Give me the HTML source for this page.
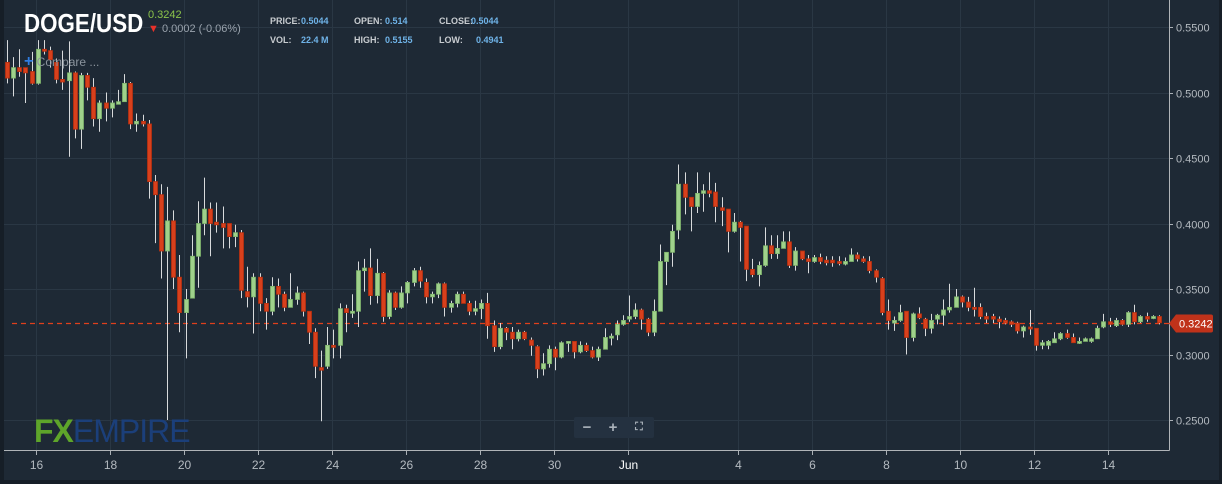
<!DOCTYPE html>
<html><head><meta charset="utf-8"><style>
html,body{margin:0;padding:0;background:#1e2935;width:1222px;height:484px;overflow:hidden;font-family:"Liberation Sans",sans-serif}
#wrap{position:relative;width:1222px;height:484px;background:#1e2935}
.hdr{position:absolute;color:#fff}
</style></head><body>
<div id="wrap">
<svg id="chart" width="1222" height="484" style="position:absolute;left:0;top:0"></svg>
<div class="hdr" style="left:24px;top:8px;font-size:26px;font-weight:bold;transform:scaleX(0.86);transform-origin:0 0;white-space:nowrap">DOGE/USD</div>
<div class="hdr" style="left:148px;top:9px;font-size:11px;color:#8bc34a">0.3242</div>
<div class="hdr" style="left:148px;top:23px;font-size:11px;color:#9aa3ad"><span style="color:#e8312a">&#9660;</span> 0.0002 (-0.06%)</div>
<div class="hdr" style="left:270px;top:12px;font-size:9px;color:#c8ccd0;line-height:19px;font-weight:bold;white-space:nowrap">
<div><span style="display:inline-block;width:31px">PRICE:</span><span style="color:#6fb3e8;display:inline-block;width:53px">0.5044</span><span style="display:inline-block;width:31px">OPEN:</span><span style="color:#6fb3e8;display:inline-block;width:54px">0.514</span><span style="display:inline-block;width:32px">CLOSE:</span><span style="color:#6fb3e8">0.5044</span></div>
<div><span style="display:inline-block;width:31px">VOL:</span><span style="color:#6fb3e8;display:inline-block;width:53px">22.4 M</span><span style="display:inline-block;width:31px">HIGH:</span><span style="color:#6fb3e8;display:inline-block;width:54px">0.5155</span><span style="display:inline-block;width:32px">LOW:</span><span style="color:#6fb3e8">&nbsp;&nbsp;0.4941</span></div>
</div>
<div class="hdr" style="left:24px;top:53px;font-size:12px;color:#8a939c"><span style="color:#2f7de1;font-size:16px;font-weight:bold">+</span> Compare ...</div>
<div class="hdr" style="left:34px;top:413px;font-size:32px;letter-spacing:-1px;white-space:nowrap;transform:scaleX(1.0);transform-origin:0 0"><span style="color:#5ea52a;font-weight:bold">FX</span><span style="color:#1b3f7a">EMPIRE</span></div>
<div style="position:absolute;left:574px;top:417px;width:80px;height:21px;background:#243140;border-radius:2px;color:#aab2ba;font-size:15px;font-weight:bold;display:flex">
<div style="width:26px;text-align:center;line-height:21px">−</div>
<div style="width:26px;text-align:center;line-height:21px">+</div>
<div style="width:26px;text-align:center;line-height:21px;font-size:11px">⛶</div>
</div>
</div>
<script>
const opens=[.523,.511,.519,.519,.516,.507,.533,.532,.523,.510,.509,.515,.472,.513,.504,.480,.492,.488,.491,.493,.507,.476,.478,.476,.432,.422,.379,.402,.359,.332,.343,.375,.400,.411,.401,.400,.400,.390,.393,.348,.344,.359,.339,.333,.352,.346,.336,.342,.347,.333,.317,.290,.291,.307,.307,.335,.332,.333,.364,.366,.345,.362,.329,.347,.336,.347,.355,.364,.355,.344,.346,.354,.336,.339,.346,.339,.333,.335,.339,.322,.306,.320,.317,.312,.317,.311,.306,.289,.293,.304,.298,.309,.310,.302,.307,.303,.298,.304,.313,.315,.323,.327,.329,.334,.327,.317,.333,.371,.378,.395,.430,.420,.413,.423,.425,.424,.412,.411,.394,.401,.398,.365,.361,.368,.383,.377,.381,.386,.368,.379,.373,.371,.374,.372,.372,.371,.369,.371,.376,.373,.371,.364,.358,.333,.324,.326,.333,.313,.331,.327,.320,.327,.330,.334,.336,.344,.340,.336,.336,.329,.329,.327,.326,.325,.324,.318,.321,.320,.307,.307,.309,.312,.316,.313,.309,.310,.310,.312,.321,.325,.322,.326,.323,.332,.325,.329,.328,.329];
const highs=[.540,.527,.533,.519,.531,.540,.540,.535,.526,.532,.539,.516,.515,.515,.511,.494,.500,.494,.502,.514,.508,.484,.483,.479,.437,.430,.428,.410,.376,.350,.391,.417,.435,.416,.416,.413,.400,.399,.395,.367,.362,.362,.343,.359,.358,.348,.362,.352,.348,.333,.320,.303,.321,.319,.339,.338,.346,.371,.373,.381,.373,.363,.349,.348,.352,.356,.366,.367,.358,.348,.355,.355,.341,.348,.348,.341,.341,.342,.347,.326,.324,.321,.321,.319,.318,.313,.307,.301,.307,.306,.310,.310,.310,.310,.309,.306,.306,.320,.316,.326,.330,.345,.339,.335,.328,.342,.384,.378,.399,.445,.439,.420,.439,.430,.439,.431,.420,.411,.408,.402,.398,.373,.371,.397,.391,.391,.394,.394,.382,.379,.376,.376,.377,.375,.375,.375,.374,.381,.378,.375,.375,.365,.359,.342,.329,.338,.333,.332,.336,.328,.331,.331,.342,.354,.350,.345,.344,.351,.339,.332,.331,.329,.328,.326,.325,.322,.334,.320,.311,.311,.317,.317,.319,.316,.313,.313,.313,.322,.331,.328,.328,.327,.333,.338,.330,.332,.330,.330];
const lows=[.507,.497,.512,.492,.506,.506,.529,.519,.507,.502,.451,.465,.457,.494,.474,.470,.478,.481,.491,.493,.472,.470,.474,.419,.385,.358,.250,.350,.317,.297,.343,.351,.391,.375,.393,.381,.381,.382,.343,.336,.316,.333,.319,.330,.336,.333,.336,.338,.329,.308,.282,.249,.289,.297,.297,.317,.328,.321,.348,.338,.339,.325,.327,.334,.335,.339,.352,.351,.339,.339,.343,.329,.332,.336,.339,.330,.330,.327,.312,.302,.304,.311,.304,.310,.311,.299,.282,.284,.290,.288,.297,.302,.297,.301,.302,.297,.295,.304,.307,.311,.322,.325,.327,.319,.314,.314,.333,.353,.367,.388,.407,.394,.408,.409,.420,.401,.398,.378,.393,.371,.356,.359,.352,.367,.373,.373,.381,.366,.364,.372,.362,.370,.369,.368,.367,.368,.368,.371,.371,.370,.362,.355,.330,.319,.318,.325,.300,.310,.327,.314,.316,.323,.322,.332,.336,.336,.333,.329,.327,.324,.324,.320,.323,.321,.316,.313,.315,.303,.304,.304,.309,.311,.312,.309,.308,.310,.309,.312,.320,.321,.321,.322,.321,.323,.324,.325,.327,.323];
const closes=[.511,.519,.516,.515,.507,.533,.532,.525,.510,.508,.515,.472,.513,.504,.480,.492,.488,.492,.493,.507,.476,.478,.476,.432,.422,.379,.402,.359,.332,.342,.375,.400,.411,.400,.399,.397,.390,.393,.349,.344,.359,.339,.333,.352,.346,.336,.342,.347,.333,.317,.291,.288,.307,.306,.335,.332,.333,.364,.366,.345,.362,.329,.347,.336,.347,.355,.364,.356,.344,.346,.354,.336,.339,.346,.339,.333,.335,.339,.322,.306,.320,.317,.312,.317,.312,.307,.289,.293,.304,.298,.309,.310,.302,.307,.303,.298,.304,.313,.314,.323,.326,.329,.334,.327,.317,.333,.371,.378,.394,.430,.420,.413,.423,.425,.423,.413,.410,.394,.401,.397,.365,.361,.368,.383,.377,.381,.386,.368,.379,.373,.371,.374,.371,.370,.370,.370,.371,.376,.373,.371,.364,.359,.332,.326,.326,.332,.313,.331,.328,.320,.326,.330,.334,.336,.344,.340,.336,.335,.329,.327,.327,.325,.324,.323,.318,.321,.320,.307,.309,.310,.312,.316,.313,.309,.310,.312,.312,.320,.325,.323,.326,.323,.332,.325,.329,.327,.329,.3242];
const yTicks=[0.55,0.50,0.45,0.40,0.35,0.30,0.25];
const xTickLabels=["16","18","20","22","24","26","28","30","Jun","4","6","8","10","12","14"];
const xTickDays=[0,2,4,6,8,10,12,14,16,19,21,23,25,27,29];
const lastPrice=0.3242;

const NS="http://www.w3.org/2000/svg";
const svg=document.getElementById('chart');
const PL=4,PR=1169,PT=0,PB=450;
const yOf=v=>27+(0.55-v)*1310;
const xOf=i=>7+i*6.16;
const xDay=d=>36+d*36.97;
function mk(tag,attrs,parent){const e=document.createElementNS(NS,tag);for(const k in attrs)e.setAttribute(k,attrs[k]);(parent||svg).appendChild(e);return e;}

let r=mk('rect',{x:0,y:0,width:4,height:484,fill:'#161e27'});


r=mk('rect',{x:1219,y:0,width:3,height:484,fill:'#161e27'});


r=mk('rect',{x:0,y:480,width:1222,height:4,fill:'#161e27'});



const grid=mk('g',{});


yTicks.forEach(v=>{
  const y=Math.round(yOf(v))+0.5;
  const l=mk('line',{x1:PL,x2:PR,y1:y,y2:y,stroke:'#2a3744','stroke-width':1},grid);
  
  
  const tk=mk('line',{x1:PR,x2:PR+4,y1:y,y2:y,stroke:'#aab0b6'});
  
  
  const t=mk('text',{x:PR+7,y:y+4,fill:'#b4bac0','font-size':11,'font-family':'Liberation Sans, sans-serif'});
  t.textContent=v.toFixed(4);
  
  
});
xTickDays.forEach((d,k)=>{
  const x=Math.round(xDay(d))+0.5;
  const l=mk('line',{x1:x,x2:x,y1:PT,y2:PB,stroke:'#2a3744','stroke-width':1},grid);
  
  
  const tk=mk('line',{x1:x,x2:x,y1:PB,y2:PB+5,stroke:'#aab0b6'});
  
  
  const t=mk('text',{x:x,y:469,fill:xTickLabels[k]==='Jun'?'#ffffff':'#b4bac0','font-size':12,'text-anchor':'middle','font-family':'Liberation Sans, sans-serif'});
  t.textContent=xTickLabels[k];
  
  
});
let ax=mk('line',{x1:PR+0.5,x2:PR+0.5,y1:0,y2:PB+0.5,stroke:'#b0b4b8'});


ax=mk('line',{x1:PL,x2:PR+0.5,y1:PB+0.5,y2:PB+0.5,stroke:'#b0b4b8'});



const yl=Math.round(yOf(lastPrice))+0.5;
let pl=mk('line',{x1:PL+8,x2:PR,y1:yl,y2:yl,stroke:'#e0401c','stroke-width':1.2,'stroke-dasharray':'5,4'});



const cg=mk('g',{});


for(let i=0;i<opens.length;i++){
  const x=Math.round(xOf(i));
  const up=closes[i]>=opens[i];
  const g=mk('g',{},cg);
  
  
  mk('line',{x1:x+0.5,x2:x+0.5,y1:yOf(highs[i]),y2:yOf(lows[i]),stroke:'#d8dadc','stroke-width':1},g);
  const top=yOf(Math.max(opens[i],closes[i])),bot=yOf(Math.min(opens[i],closes[i]));
  mk('rect',{x:x-1.5,y:top,width:4,height:Math.max(2,bot-top),fill:up?'#9fd18b':'#d8401c',stroke:up?'#7fb56c':'#b8300f','stroke-width':0.8},g);
}

const lb=mk('g',{});


mk('path',{d:`M${PR} ${yl} L${PR+7} ${yl-9} L${PR+42} ${yl-9} Q${PR+44} ${yl-9} ${PR+44} ${yl-7} L${PR+44} ${yl+7} Q${PR+44} ${yl+9} ${PR+42} ${yl+9} L${PR+7} ${yl+9} Z`,fill:'#c0321a'},lb);
const lt=mk('text',{x:PR+10,y:yl+4,fill:'#fff','font-size':11,'font-family':'Liberation Sans, sans-serif'},lb);
lt.textContent=lastPrice.toFixed(4);
</script>
</body></html>
